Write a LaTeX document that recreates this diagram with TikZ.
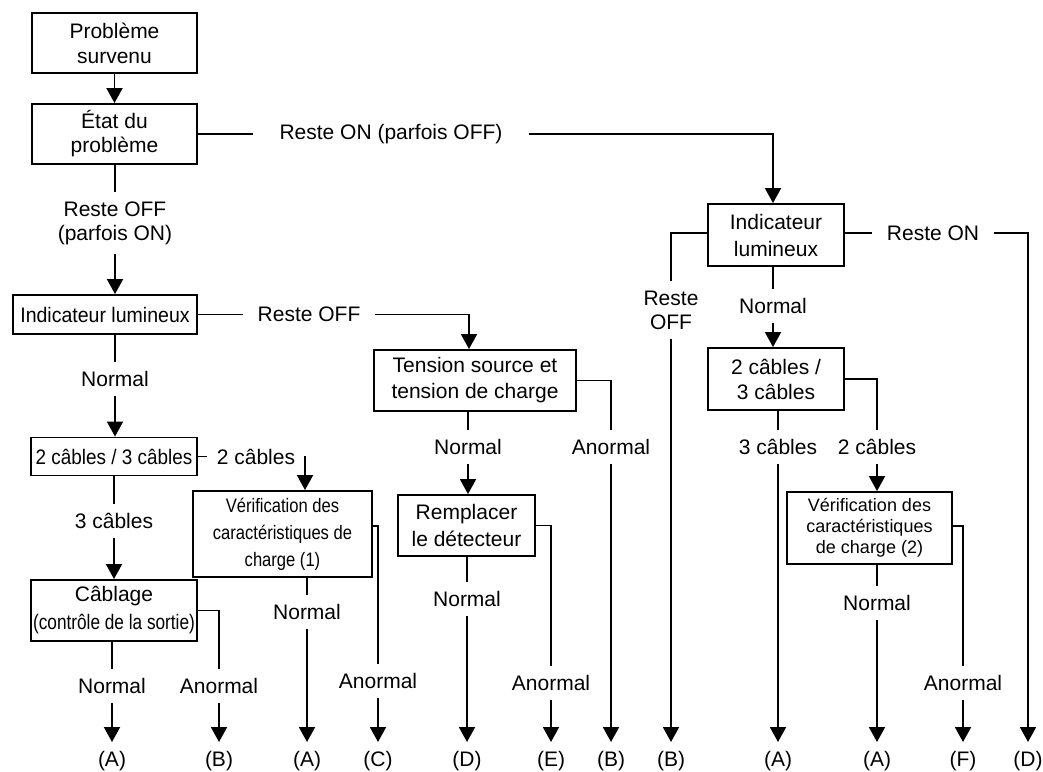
\documentclass[tikz,border=0pt]{standalone}
\usepackage{fontspec}
\setmainfont{Liberation Sans}
\newfontfamily\cnA[FakeStretch=0.93]{Liberation Sans}
\newfontfamily\cnB[FakeStretch=0.9]{Liberation Sans}
\newfontfamily\cnC[FakeStretch=0.82]{Liberation Sans}
\newfontfamily\cnD[FakeStretch=0.85]{Liberation Sans}
\usetikzlibrary{arrows.meta,calc}
\begin{document}
\begin{tikzpicture}[x=1pt,y=-1pt,
  every node/.style={font=\fontsize{21}{24}\selectfont},
  box/.style={draw, line width=1.9pt, align=center, inner sep=0pt},
  lbl/.style={inner xsep=4pt, inner ysep=9pt, align=center},
  endn/.style={anchor=north, inner xsep=2pt, inner ysep=9pt},
  ln/.style={line width=1.9pt},
  arr/.style={line width=1.9pt, -{Triangle[width=16pt,length=15pt]}},
]
\useasboundingbox (0,0) rectangle (1043,771);
\fill[white] (0,0) rectangle (1043,771);

% boxes
\node[box, minimum width=165pt, minimum height=60pt, font=\fontsize{21}{25}\selectfont] (b1) at (114.5,43) {Problème\\survenu};
\node[box, minimum width=165pt, minimum height=60pt] (b2) at (114.5,134) {État du\\problème};
\node[box, minimum width=184pt, minimum height=39pt, font=\cnA\fontsize{21}{24}\selectfont] (b3) at (105,314.5) {Indicateur lumineux};
\node[box, minimum width=166pt, minimum height=38pt, font=\cnB\fontsize{21}{24}\selectfont] (b4) at (114,456.5) {2 câbles / 3 câbles};
\node[box, minimum width=166pt, minimum height=61pt, font=\fontsize{21}{28}\selectfont] (b5) at (114,610.5) {Câblage\\{\cnC (contrôle de la sortie)}};
\node[box, minimum width=179pt, minimum height=86pt, font=\cnD\fontsize{19.5}{27}\selectfont] (b6) at (282.5,534) {Vérification des\\caractéristiques de\\charge (1)};
\node[box, minimum width=202pt, minimum height=61pt, font=\fontsize{21}{26}\selectfont] (b7) at (475,380.5) {Tension source et\\tension de charge};
\node[box, minimum width=137pt, minimum height=61pt, font=\fontsize{21}{27}\selectfont] (b8) at (466.5,525.5) {Remplacer\\le détecteur};
\node[box, minimum width=136pt, minimum height=62pt, font=\fontsize{21}{27}\selectfont] (b9) at (776,235) {Indicateur\\lumineux};
\node[box, minimum width=136pt, minimum height=62pt, font=\fontsize{21}{25}\selectfont] (b10) at (776,379) {2 câbles /\\3 câbles};
\node[box, minimum width=165pt, minimum height=72pt, font=\fontsize{18}{21}\selectfont] (b11) at (869.5,528) {Vérification des\\caractéristiques\\de charge (2)};

% labels
\node[lbl] (lA) at (115,223) {Reste OFF\\(parfois ON)};
\node[lbl, inner xsep=26pt] (lB) at (391,134) {Reste ON (parfois OFF)};
\node[lbl] (lC) at (115,379) {Normal};
\node[lbl, inner xsep=14.5pt] (lD) at (309,314.5) {Reste OFF};
\node[lbl, inner xsep=10pt] (lE) at (256,456.5) {2 câbles};
\node[lbl] (lF) at (114,521) {3 câbles};
\node[lbl] (lG) at (112,686) {Normal};
\node[lbl] (lH) at (219,686) {Anormal};
\node[lbl] (lI) at (307,612) {Normal};
\node[lbl] (lJ) at (378,681) {Anormal};
\node[lbl] (lK) at (468,447) {Normal};
\node[lbl] (lL) at (611,447) {Anormal};
\node[lbl] (lM) at (467,599) {Normal};
\node[lbl] (lN) at (551,683) {Anormal};
\node[lbl] (lO) at (671,310) {Reste\\OFF};
\node[lbl, inner xsep=15pt] (lP) at (933,233) {Reste ON};
\node[lbl] (lQ) at (773,306) {Normal};
\node[lbl] (lR) at (778,447) {3 câbles};
\node[lbl] (lS) at (877,447) {2 câbles};
\node[lbl] (lT) at (877,603) {Normal};
\node[lbl] (lU) at (963,683) {Anormal};

% end nodes
\node[endn] (eA1) at (112,742) {(A)};
\node[endn] (eB1) at (219,742) {(B)};
\node[endn] (eA2) at (307,742) {(A)};
\node[endn] (eC) at (378,742) {(C)};
\node[endn] (eD1) at (467,742) {(D)};
\node[endn] (eE) at (551,742) {(E)};
\node[endn] (eB2) at (611,742) {(B)};
\node[endn] (eB3) at (671,742) {(B)};
\node[endn] (eA3) at (778,742) {(A)};
\node[endn] (eA4) at (877,742) {(A)};
\node[endn] (eF) at (963,742) {(F)};
\node[endn] (eD2) at (1028,742) {(D)};

% connectors
\draw[arr] (b1) -- (b2);
\draw[ln] (b2.east) -- (lB.west);
\draw[arr] (lB.east) -| ($(b9.north)+(-3,0)$);
\draw[ln] (lA.north |- b2.south) -- (lA.north);
\draw[arr] (lA.south) -- (lA.south |- b3.north);
\draw[ln] (b3.east) -- (lD.west);
\draw[arr] (lD.east) -| ($(b7.north)+(-6,0)$);
\draw[ln] (lC.north |- b3.south) -- (lC.north);
\draw[arr] (lC.south) -- (lC.south |- b4.north);
\draw[ln] (b4.east) -- (lE.west);
\draw[arr] (lE.east) -| ($(b6.north)+(22.5,0)$);
\draw[ln] (lF.north |- b4.south) -- (lF.north);
\draw[arr] (lF.south) -- (lF.south |- b5.north);
\draw[ln] (lG.north |- b5.south) -- (lG.north);
\draw[arr] (lG.south) -- (eA1.north);
\draw[ln] (b5.east) -| (lH.north);
\draw[arr] (lH.south) -- (eB1.north);
\draw[ln] (lI.north |- b6.south) -- (lI.north);
\draw[arr] (lI.south) -- (eA2.north);
\draw[ln] ($(b6.east)+(0,-8)$) -| (lJ.north);
\draw[arr] (lJ.south) -- (eC.north);
\draw[ln] (lK.north |- b7.south) -- (lK.north);
\draw[arr] (lK.south) -- (lK.south |- b8.north);
\draw[ln] (b7.east) -| (lL.north);
\draw[arr] (lL.south) -- (eB2.north);
\draw[ln] (lM.north |- b8.south) -- (lM.north);
\draw[arr] (lM.south) -- (eD1.north);
\draw[ln] (b8.east) -| (lN.north);
\draw[arr] (lN.south) -- (eE.north);
\draw[ln] ($(b9.west)+(0,-2)$) -| (lO.north);
\draw[arr] (lO.south) -- (eB3.north);
\draw[ln] ($(b9.east)+(0,-2)$) -- (lP.west);
\draw[arr] (lP.east) -| (eD2.north);
\draw[ln] (lQ.north |- b9.south) -- (lQ.north);
\draw[arr] (lQ.south) -- (lQ.south |- b10.north);
\draw[ln] (lR.north |- b10.south) -- (lR.north);
\draw[arr] (lR.south) -- (eA3.north);
\draw[ln] (b10.east) -| (lS.north);
\draw[arr] (lS.south) -- (lS.south |- b11.north);
\draw[ln] (lT.north |- b11.south) -- (lT.north);
\draw[arr] (lT.south) -- (eA4.north);
\draw[ln] ($(b11.east)+(0,-2)$) -| (lU.north);
\draw[arr] (lU.south) -- (eF.north);
\end{tikzpicture}
\end{document}
